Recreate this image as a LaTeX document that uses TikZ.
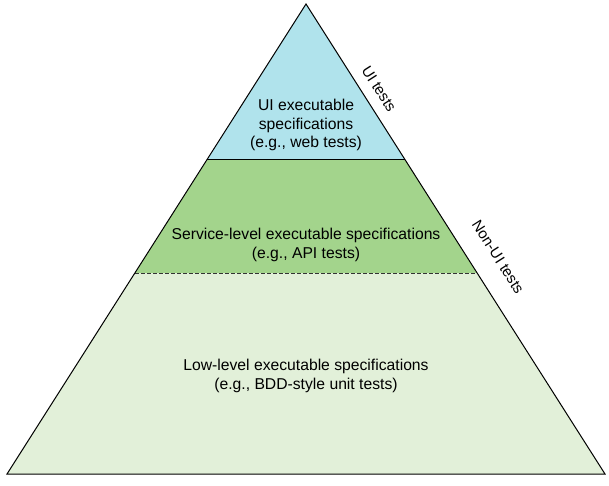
\documentclass[tikz,border=0pt]{standalone}
\usepackage{fontspec}
\setmainfont{Liberation Sans}
\definecolor{topc}{HTML}{B0E3EC}
\definecolor{midc}{HTML}{A3D48C}
\definecolor{botc}{HTML}{E2F0D9}
\begin{document}
\begin{tikzpicture}[x=1pt,y=-1pt,
  lbl/.style={align=center,font=\fontsize{15.7}{18.5}\selectfont,inner sep=0pt},
  side/.style={font=\fontsize{15}{18}\selectfont,rotate=-57.5,inner sep=0pt}]
\useasboundingbox (0,0) rectangle (609,486);
\coordinate (A) at (306,4);
\coordinate (BL) at (7,474);
\coordinate (BR) at (605,474);
\coordinate (L1) at (207.2,160);
\coordinate (R1) at (405.2,160);
\coordinate (L2) at (134.9,273);
\coordinate (R2) at (477.1,273);
\fill[topc] (A) -- (L1) -- (R1) -- cycle;
\fill[midc] (L1) -- (R1) -- (R2) -- (L2) -- cycle;
\fill[botc] (L2) -- (R2) -- (BR) -- (BL) -- cycle;
\draw[line width=1pt] (L1) -- (R1);
\draw[line width=1pt,dash pattern=on 4pt off 2pt,black!80] (L2) -- (R2);
\draw[line width=1pt,line join=miter] (A) -- (BR) -- (BL) -- cycle;
\node[lbl] (ui) at (306,125) {UI executable\\specifications\\(e.g., web tests)};
\node[lbl] (svc) at (306,245) {Service-level executable specifications\\(e.g., API tests)};
\node[lbl] (low) at (306,376) {Low-level executable specifications\\(e.g., BDD-style unit tests)};
\node[side] (uit) at (379,89) {UI tests};
\node[side] (nonui) at (498,257) {Non-UI tests};
\end{tikzpicture}
\end{document}
